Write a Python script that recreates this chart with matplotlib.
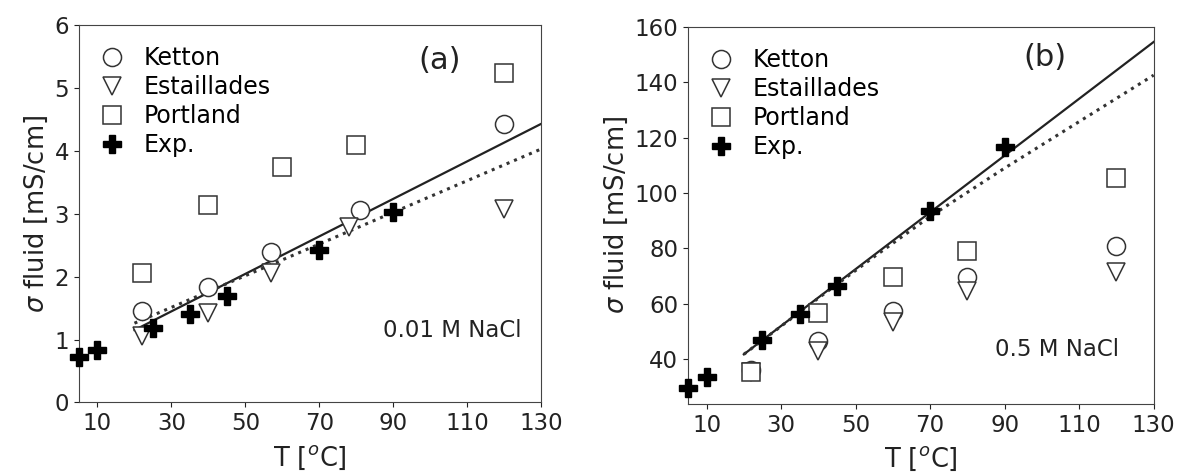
import matplotlib
matplotlib.use("Agg")
import matplotlib.pyplot as plt

# ---------------- data: panel (a) 0.01 M NaCl ----------------
a_ketton_T = [22, 40, 57, 81, 120]
a_ketton_s = [1.45, 1.84, 2.40, 3.06, 4.42]
a_estail_T = [22, 40, 57, 78, 120]
a_estail_s = [1.06, 1.43, 2.06, 2.79, 3.08]
a_portl_T = [22, 40, 60, 80, 120]
a_portl_s = [2.06, 3.14, 3.74, 4.10, 5.24]
a_exp_T = [5, 10, 25, 35, 45, 70, 90]
a_exp_s = [0.72, 0.83, 1.19, 1.41, 1.70, 2.42, 3.03]
a_line_T = [20, 130]
a_solid_s = [1.15, 4.43]
a_dot_s = [1.26, 4.03]

# ---------------- data: panel (b) 0.5 M NaCl ----------------
b_ketton_T = [22, 40, 60, 80, 120]
b_ketton_s = [36.0, 46.6, 57.3, 69.7, 80.8]
b_estail_T = [22, 40, 60, 80, 120]
b_estail_s = [35.4, 43.0, 53.5, 64.7, 71.5]
b_portl_T = [22, 40, 60, 80, 120]
b_portl_s = [35.4, 56.7, 69.7, 79.1, 105.5]
b_exp_T = [5, 10, 25, 35, 45, 70, 90]
b_exp_s = [29.6, 33.6, 46.9, 56.2, 66.4, 93.6, 116.7]
b_solid_T = [20, 130]
b_solid_s = [41.7, 154.6]
b_dot_T = [20, 40, 55, 70, 90, 110, 130]
b_dot_s = [41.7, 62.0, 77.0, 91.5, 109.0, 125.8, 142.6]

x_ticks = [10, 30, 50, 70, 90, 110, 130]
labels = ["Ketton", "Estaillades", "Portland", "Exp."]

TFS = 16.5   # tick labels
LFS = 18.5   # axis labels
GFS = 17     # legend
plt.rcParams['font.family'] = ['DejaVu Sans']

fig = plt.figure(figsize=(11.79, 4.74), dpi=100)
axA = fig.add_axes([0.067, 0.151, 0.392, 0.796])
axB = fig.add_axes([0.5835, 0.148, 0.395, 0.795])

ms = 13
mew = 1.1
ec = '#333333'


def panel(ax, kT, ks, eT, es, pT, ps, xT, xs, sol_T, sol_s, dot_T, dot_s):
    ax.plot(sol_T, sol_s, '-', color='#222222', lw=1.6, zorder=2)
    ax.plot(dot_T, dot_s, ':', color='#333333', lw=2.2, zorder=2)
    ax.plot(kT, ks, 'o', ms=ms, mfc='white', mec=ec, mew=mew, ls='none', label=labels[0], zorder=3, clip_on=False)
    ax.plot(eT, es, 'v', ms=ms, mfc='white', mec=ec, mew=mew, ls='none', label=labels[1], zorder=3, clip_on=False)
    ax.plot(pT, ps, 's', ms=ms, mfc='white', mec=ec, mew=mew, ls='none', label=labels[2], zorder=3, clip_on=False)
    ax.plot(xT, xs, 'P', ms=ms, mfc='black', mec='black', mew=1, ls='none', label=labels[3], zorder=4, clip_on=False)
    ax.set_xlim(5, 130)
    ax.set_xticks(x_ticks)
    ax.tick_params(labelsize=TFS, colors='#222222')
    ax.set_xlabel('T [$^o$C]', fontsize=LFS, color='#222222', labelpad=6)
    ax.set_ylabel(r'$\sigma$ fluid [mS/cm]', fontsize=LFS, color='#222222', labelpad=3)
    for sp in ax.spines.values():
        sp.set_color('#444444')
    ax.legend(loc='upper left', frameon=False, fontsize=GFS, handletextpad=0.55,
              labelspacing=0.22, borderaxespad=0.0, handlelength=1.6,
              bbox_to_anchor=(0.01, 0.97))


panel(axA, a_ketton_T, a_ketton_s, a_estail_T, a_estail_s, a_portl_T, a_portl_s,
      a_exp_T, a_exp_s, a_line_T, a_solid_s, a_line_T, a_dot_s)
axA.set_ylim(0, 6)
axA.set_yticks([0, 1, 2, 3, 4, 5, 6])
axA.text(0.78, 0.905, '(a)', transform=axA.transAxes, fontsize=22, ha='center', va='center', color='#222222')
axA.text(0.957, 0.19, '0.01 M NaCl', transform=axA.transAxes, fontsize=16.5, ha='right', va='center', color='#222222')

panel(axB, b_ketton_T, b_ketton_s, b_estail_T, b_estail_s, b_portl_T, b_portl_s,
      b_exp_T, b_exp_s, b_solid_T, b_solid_s, b_dot_T, b_dot_s)
axB.set_ylim(23.8, 160)
axB.set_yticks([40, 60, 80, 100, 120, 140, 160])
axB.text(0.766, 0.92, '(b)', transform=axB.transAxes, fontsize=22, ha='center', va='center', color='#222222')
axB.text(0.925, 0.143, '0.5 M NaCl', transform=axB.transAxes, fontsize=16.5, ha='right', va='center', color='#222222')

fig.savefig('out.png', dpi=100)
